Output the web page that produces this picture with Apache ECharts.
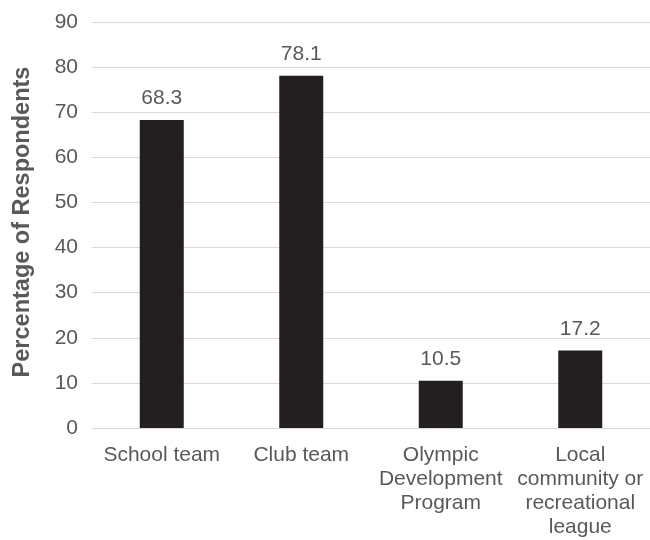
<!DOCTYPE html>
<html>
<head>
<meta charset="utf-8">
<script src="https://cdn.jsdelivr.net/npm/echarts@6/dist/echarts.min.js"></script>
<style>
  html, body { margin: 0; padding: 0; background: #fff; }
</style>
</head>
<body>
<div id="main" style="width:650px;height:540px;"></div>
<script>
// data
var categories = ['School team', 'Club team', 'Olympic\nDevelopment\nProgram', 'Local\ncommunity or\nrecreational\nleague'];
var percentages = [68.3, 78.1, 10.5, 17.2];
var yTicks = { min: 0, max: 90, interval: 10 };

var myChart = echarts.init(document.getElementById('main'));
myChart.setOption({
    backgroundColor: '#FFFFFF',
    animation: false,
    textStyle: { fontFamily: 'Liberation Sans, Arial, sans-serif' },
    grid: { left: 92, top: 22, width: 566, bottom: 112 },
    xAxis: {
        type: 'category',
        data: categories,
        axisTick: { show: false },
        axisLine: { lineStyle: { color: '#d9d9d9', width: 1 } },
        axisLabel: {
            color: '#595959',
            fontSize: 21,
            lineHeight: 24,
            margin: 15,
            interval: 0
        }
    },
    yAxis: {
        type: 'value',
        min: yTicks.min,
        max: yTicks.max,
        interval: yTicks.interval,
        name: 'Percentage of Respondents',
        nameLocation: 'middle',
        nameGap: 57,
        nameTextStyle: { color: '#595959', fontSize: 23.5, fontWeight: 'bold', padding: [0, 0, 0, 6] },
        axisLine: { show: false },
        axisTick: { show: false },
        axisLabel: { color: '#595959', fontSize: 21, margin: 14 },
        splitLine: { lineStyle: { color: '#d9d9d9', width: 1 } }
    },
    series: [{
        type: 'bar',
        data: percentages,
        barWidth: 44,
        itemStyle: { color: '#231f20' },
        label: {
            show: true,
            position: 'top',
            distance: 11,
            color: '#595959',
            fontSize: 21
        }
    }]
});
</script>
</body>
</html>
